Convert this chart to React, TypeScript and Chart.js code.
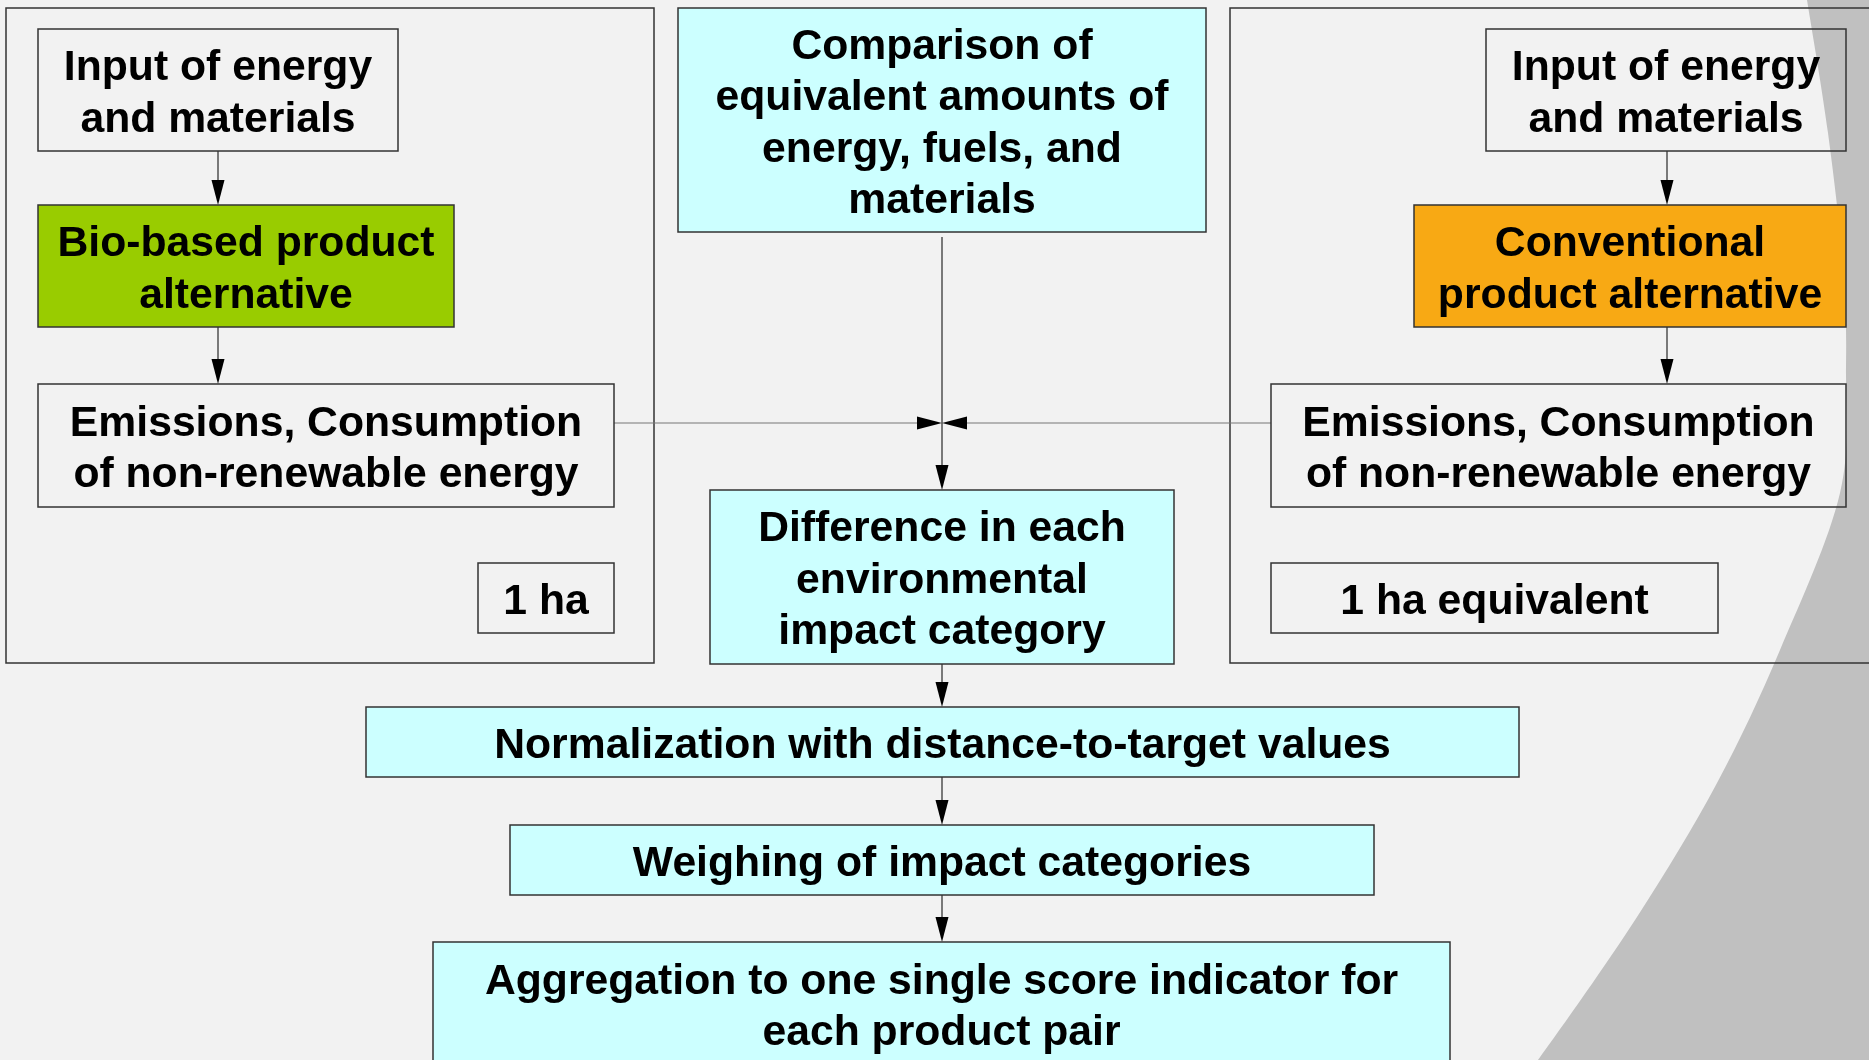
import React, { useEffect, useRef } from "react";
import { Chart, registerables } from "chart.js";
Chart.register(...registerables);

const W = 1869;
const H = 1060;

// Diagram nodes (diagram units = pixels of the reference)
const nodeLabels: string[][] = [
  ["Input of energy", "and materials"],
  ["Bio-based product", "alternative"],
  ["Emissions, Consumption", "of non-renewable energy"],
  ["1 ha"],
  ["Comparison of", "equivalent amounts of", "energy, fuels, and", "materials"],
  ["Input of energy", "and materials"],
  ["Conventional", "product alternative"],
  ["Emissions, Consumption", "of non-renewable energy"],
  ["1 ha equivalent"],
  ["Difference in each", "environmental", "impact category"],
  ["Normalization with distance-to-target values"],
  ["Weighing of impact categories"],
  ["Aggregation to one single score indicator for", "each product pair"],
];
const nodeX = [38, 38, 38, 478, 678, 1486, 1414, 1271, 1271, 710, 366, 510, 433];
const nodeY = [29, 205, 384, 563, 8, 29, 205, 384, 563, 490, 707, 825, 942];
const nodeW = [360, 416, 576, 136, 528, 360, 432, 575, 447, 464, 1153, 864, 1017];
const nodeH = [122, 122, 123, 70, 224, 122, 122, 123, 70, 174, 70, 70, 123];
const nodeFill = [
  "transparent", "#99cc00", "transparent", "transparent", "#ccffff",
  "transparent", "#f8a914", "transparent", "transparent", "#ccffff",
  "#ccffff", "#ccffff", "#ccffff",
];

// Group panels
const panelX = [6, 1230];
const panelY = [8, 8];
const panelW = [648, 700];
const panelH = [655, 655];

// Arrows: [x, y] start and end
const arrowFrom: number[][] = [
  [218, 151], [218, 327], [1667, 151], [1667, 327],
  [614, 423], [1271, 423], [942, 237], [942, 664], [942, 777], [942, 895],
];
const arrowTo: number[][] = [
  [218, 205], [218, 384], [1667, 205], [1667, 384],
  [942, 423], [942, 423], [942, 490], [942, 707], [942, 825], [942, 942],
];
const arrowColor = ["#000", "#000", "#000", "#000", "#777", "#777", "#000", "#000", "#000", "#000"];

// Background: light area bounded on the right by a curve (gray outside)
const edgeX = [1800, 1807, 1828, 1843, 1846, 1840, 1780, 1717, 1637, 1538, 1490];
const edgeY = [-40, 0, 133, 267, 367, 493, 650, 783, 917, 1060, 1120];

const FONT = 'bold 42.7px "Liberation Sans", Arial, sans-serif';
const LINE_H = 51.5;

const diagramPlugin = {
  id: "diagram",
  beforeDraw(chart: any) {
    const { ctx, scales } = chart;
    const sx = scales.x, sy = scales.y;
    const pts = edgeX.map((x, i) => [sx.getPixelForValue(x), sy.getPixelForValue(edgeY[i])]);
    ctx.save();
    ctx.fillStyle = "#c0c0c0";
    ctx.fillRect(0, 0, chart.width, chart.height);
    ctx.fillStyle = "#f2f2f2";
    ctx.beginPath();
    ctx.moveTo(-10, pts[0][1]);
    ctx.lineTo(pts[0][0], pts[0][1]);
    for (let i = 0; i < pts.length - 1; i++) {
      const p0 = pts[Math.max(0, i - 1)];
      const p1 = pts[i];
      const p2 = pts[i + 1];
      const p3 = pts[Math.min(pts.length - 1, i + 2)];
      const c1x = p1[0] + (p2[0] - p0[0]) / 6;
      const c1y = p1[1] + (p2[1] - p0[1]) / 6;
      const c2x = p2[0] - (p3[0] - p1[0]) / 6;
      const c2y = p2[1] - (p3[1] - p1[1]) / 6;
      ctx.bezierCurveTo(c1x, c1y, c2x, c2y, p2[0], p2[1]);
    }
    ctx.lineTo(-10, pts[pts.length - 1][1]);
    ctx.closePath();
    ctx.fill();
    ctx.restore();
  },
  afterDatasetsDraw(chart: any) {
    const { ctx, scales } = chart;
    const sx = scales.x, sy = scales.y;
    const px = (v: number) => sx.getPixelForValue(v);
    const py = (v: number) => sy.getPixelForValue(v);
    ctx.save();
    // panels
    ctx.strokeStyle = "#333";
    ctx.lineWidth = 1.5;
    for (let i = 0; i < panelX.length; i++) {
      const x0 = px(panelX[i]), y0 = py(panelY[i]);
      const x1 = px(panelX[i] + panelW[i]), y1 = py(panelY[i] + panelH[i]);
      ctx.strokeRect(x0, y0, x1 - x0, y1 - y0);
    }
    // arrows
    for (let i = 0; i < arrowFrom.length; i++) {
      const [ax, ay] = arrowFrom[i];
      const [bx, by] = arrowTo[i];
      const x0 = px(ax), y0 = py(ay), x1 = px(bx), y1 = py(by);
      const ang = Math.atan2(y1 - y0, x1 - x0);
      const len = 25, hw = 6.5;
      ctx.strokeStyle = arrowColor[i];
      ctx.lineWidth = 1;
      ctx.beginPath();
      ctx.moveTo(x0, y0);
      ctx.lineTo(x1 - Math.cos(ang) * len * 0.6, y1 - Math.sin(ang) * len * 0.6);
      ctx.stroke();
      ctx.fillStyle = "#000";
      ctx.beginPath();
      ctx.moveTo(x1, y1);
      ctx.lineTo(x1 - Math.cos(ang) * len - Math.sin(ang) * hw, y1 - Math.sin(ang) * len + Math.cos(ang) * hw);
      ctx.lineTo(x1 - Math.cos(ang) * len + Math.sin(ang) * hw, y1 - Math.sin(ang) * len - Math.cos(ang) * hw);
      ctx.closePath();
      ctx.fill();
    }
    // nodes
    for (let i = 0; i < nodeLabels.length; i++) {
      const x0 = px(nodeX[i]), y0 = py(nodeY[i]);
      const x1 = px(nodeX[i] + nodeW[i]), y1 = py(nodeY[i] + nodeH[i]);
      if (nodeFill[i] !== "transparent") {
        ctx.fillStyle = nodeFill[i];
        ctx.fillRect(x0, y0, x1 - x0, y1 - y0);
      }
      ctx.strokeStyle = "#333";
      ctx.lineWidth = 1.5;
      ctx.strokeRect(x0, y0, x1 - x0, y1 - y0);
      ctx.fillStyle = "#000";
      ctx.font = FONT;
      ctx.textAlign = "center";
      ctx.textBaseline = "middle";
      const lines = nodeLabels[i];
      const cx = (x0 + x1) / 2, cy = (y0 + y1) / 2;
      lines.forEach((t, j) => {
        ctx.fillText(t, cx, cy + (j - (lines.length - 1) / 2) * LINE_H + 4);
      });
    }
    ctx.restore();
  },
};

export default function App() {
  const ref = useRef<HTMLCanvasElement | null>(null);
  useEffect(() => {
    document.body.style.margin = "0";
    const canvas = ref.current!;
    const chart = new Chart(canvas, {
      type: "scatter",
      data: {
        datasets: [
          {
            data: nodeX.map((x, i) => ({ x: x + nodeW[i] / 2, y: nodeY[i] + nodeH[i] / 2 })),
            pointRadius: 0,
          },
        ],
      },
      options: {
        animation: false,
        responsive: false,
        maintainAspectRatio: false,
        layout: { padding: 0 },
        plugins: { legend: { display: false }, tooltip: { enabled: false } },
        events: [],
        scales: {
          x: { type: "linear", min: 0, max: W, display: false },
          y: { type: "linear", min: 0, max: H, reverse: true, display: false },
        },
      },
      plugins: [diagramPlugin],
    });
    return () => chart.destroy();
  }, []);
  return (
    <div style={{ width: W, height: H, overflow: "hidden" }}>
      <canvas ref={ref} width={W} height={H} style={{ display: "block" }} />
    </div>
  );
}
